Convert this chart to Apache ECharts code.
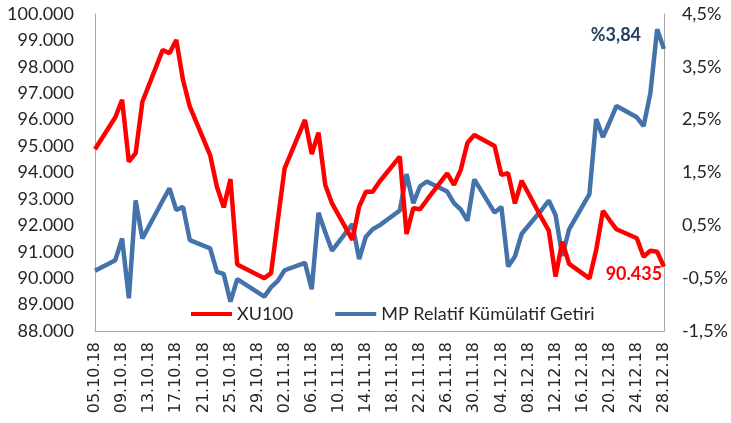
<!DOCTYPE html>
<html>
<head>
<meta charset="utf-8">
<script src="https://cdn.jsdelivr.net/npm/echarts@6/dist/echarts.min.js"></script>
<style>
html,body{margin:0;padding:0;background:#fff;}
#chart{width:731px;height:423px;}
</style>
</head>
<body>
<div id="chart"></div>
<script>
// Trading days
const dates = [
  '05.10.18','08.10.18','09.10.18','10.10.18','11.10.18','12.10.18',
  '15.10.18','16.10.18','17.10.18','18.10.18','19.10.18',
  '22.10.18','23.10.18','24.10.18','25.10.18','26.10.18',
  '30.10.18','31.10.18','01.11.18','02.11.18',
  '05.11.18','06.11.18','07.11.18','08.11.18','09.11.18',
  '12.11.18','13.11.18','14.11.18','15.11.18','16.11.18',
  '19.11.18','20.11.18','21.11.18','22.11.18','23.11.18',
  '26.11.18','27.11.18','28.11.18','29.11.18','30.11.18',
  '03.12.18','04.12.18','05.12.18','06.12.18','07.12.18',
  '10.12.18','11.12.18','12.12.18','13.12.18','14.12.18',
  '17.12.18','18.12.18','19.12.18','20.12.18','21.12.18',
  '24.12.18','25.12.18','26.12.18','27.12.18','28.12.18'
];
// XU100 index level (thousands)
const xu100 = [
  94.88, 96.09, 96.75, 94.41, 94.73, 96.68,
  98.64, 98.51, 99.02, 97.50, 96.49,
  94.66, 93.46, 92.68, 93.75, 90.52,
  90.00, 90.19, 92.20, 94.16,
  95.99, 94.70, 95.51, 93.53, 92.83,
  91.45, 92.71, 93.27, 93.27, 93.65,
  94.60, 91.67, 92.65, 92.61, 92.96,
  93.97, 93.53, 94.10, 95.13, 95.42,
  95.00, 93.91, 93.97, 92.83, 93.69,
  92.25, 91.80, 90.06, 91.38, 90.54,
  89.99, 91.07, 92.55, 92.19, 91.85,
  91.51, 90.81, 91.04, 91.00, 90.435
];
// MP relative cumulative return (%)
const mp = [
  -0.36, -0.16, 0.25, -0.88, 0.97, 0.25,
  0.97, 1.20, 0.79, 0.85, 0.22,
  0.065, -0.38, -0.42, -0.945, -0.52,
  -0.85, -0.67, -0.55, -0.35,
  -0.21, -0.71, 0.74, 0.37, 0.02,
  0.525, -0.14, 0.285, 0.425, 0.50,
  0.78, 1.47, 0.92, 1.24, 1.33,
  1.14, 0.92, 0.80, 0.59, 1.37,
  0.74, 0.85, -0.28, -0.09, 0.34,
  0.80, 0.97, 0.695, -0.08, 0.425,
  1.09, 2.51, 2.17, 2.46, 2.76,
  2.545, 2.38, 3.00, 4.21, 3.84
];
const tickLabels = [
  '05.10.18','09.10.18','13.10.18','17.10.18','21.10.18','25.10.18',
  '29.10.18','02.11.18','06.11.18','10.11.18','14.11.18','18.11.18',
  '22.11.18','26.11.18','30.11.18','04.12.18','08.12.18','12.12.18',
  '16.12.18','20.12.18','24.12.18','28.12.18'
];
const seriesNames = ['XU100', 'MP Relatif Kümülatif Getiri'];
const endLabels = ['90.435', '%3,84'];

// calendar-day category axis (Excel date axis)
function parseD(s){const p=s.split('.').map(Number);return Date.UTC(2000+p[2],p[1]-1,p[0]);}
function pad(n){return (n<10?'0':'')+n;}
function fmtD(t){const d=new Date(t);return pad(d.getUTCDate())+'.'+pad(d.getUTCMonth()+1)+'.'+String(d.getUTCFullYear()).slice(2);}
const categories = [];
for (let t=parseD(dates[0]); t<=parseD(dates[dates.length-1]); t+=86400000) categories.push(fmtD(t));

function buildData(vals, labelText, labelColor, offset){
  const arr = categories.map(()=>null);
  dates.forEach((d,i)=>{
    const idx = categories.indexOf(d);
    if (i === dates.length-1) {
      arr[idx] = {value: vals[i], label: {show:true, formatter: labelText, position:'inside', offset: offset,
        color: labelColor, fontWeight:'bold', fontFamily:'Lato', fontSize:18}};
    } else arr[idx] = vals[i];
  });
  return arr;
}

const axisColor = '#A6A6A6';
const txt = '#262626';
const chart = echarts.init(document.getElementById('chart'));
chart.setOption({
  animation:false,
  backgroundColor:'#fff',
  grid:{left:95, right:65, top:14, bottom:92, containLabel:false},
  legend:{
    data: seriesNames, icon:'rect', itemWidth:41, itemHeight:4, itemGap:42,
    left:186, top:300,
    textStyle:{fontFamily:'Lato', fontSize:18, color:txt}
  },
  xAxis:{
    type:'category', data: categories, boundaryGap:false,
    axisLine:{show:true, onZero:false, lineStyle:{color:axisColor, width:1}},
    axisTick:{show:false},
    splitLine:{show:false},
    axisLabel:{rotate:90, margin:11, fontFamily:'DejaVu Sans', fontSize:16, color:txt,
      interval:(i,v)=>tickLabels.indexOf(v)>=0}
  },
  yAxis:[
    {type:'value', min:88, max:100, interval:1, position:'left',
     axisLine:{show:true, lineStyle:{color:axisColor}}, axisTick:{show:false}, splitLine:{show:false},
     axisLabel:{margin:21, fontFamily:'Lato', fontSize:18, color:txt, formatter:v=>v.toFixed(3)}},
    {type:'value', min:-1.5, max:4.5, interval:1, position:'right',
     axisLine:{show:true, lineStyle:{color:axisColor}}, axisTick:{show:false}, splitLine:{show:false},
     axisLabel:{margin:18, fontFamily:'Lato', fontSize:18, color:txt, formatter:v=>v.toFixed(1).replace('.',',')+'%'}}
  ],
  series:[
    {name:seriesNames[0], type:'line', yAxisIndex:0, connectNulls:true, showSymbol:true, symbol:'circle', symbolSize:0,
     color:'#FF0000', itemStyle:{color:'#FF0000'}, lineStyle:{color:'#FF0000', width:4.5},
     data: buildData(xu100, endLabels[0], '#FF0000', [-30, 8]), z:3},
    {name:seriesNames[1], type:'line', yAxisIndex:1, connectNulls:true, showSymbol:true, symbol:'circle', symbolSize:0,
     color:'#4472AA', itemStyle:{color:'#4472AA'}, lineStyle:{color:'#4472AA', width:4.5},
     data: buildData(mp, endLabels[1], '#254061', [-48, -14]), z:2}
  ]
});
</script>
</body>
</html>
